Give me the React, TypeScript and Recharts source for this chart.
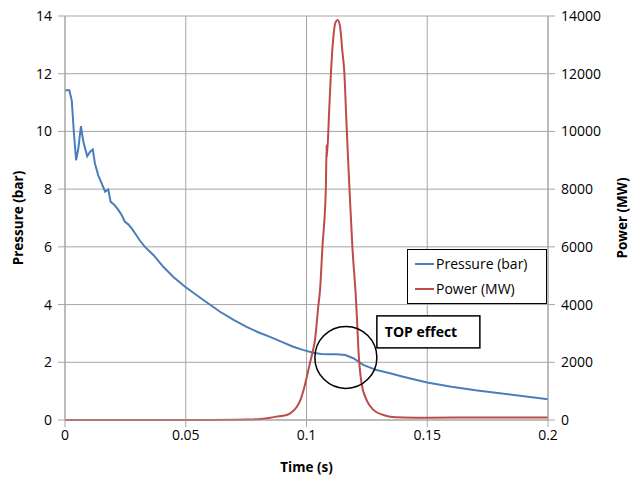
import React from "react";
import {
  ComposedChart,
  Line,
  XAxis,
  YAxis,
  CartesianGrid,
  Legend,
  Label,
  ReferenceDot,
} from "recharts";

// pressure trace (bar)
const pressureTime = [
  0, 0.0018, 0.0028, 0.0037, 0.0046, 0.0055, 0.0066, 0.0076, 0.0092, 0.0104,
  0.0115, 0.0124, 0.0138, 0.0152, 0.0166, 0.0175, 0.0179, 0.0189, 0.0205,
  0.0221, 0.0235, 0.0248, 0.0262, 0.0276, 0.029, 0.031, 0.0331, 0.0366, 0.0407,
  0.045, 0.05, 0.0573, 0.0642, 0.07, 0.0752, 0.08, 0.0849, 0.09, 0.0945, 0.0985,
  0.1028, 0.106, 0.109, 0.1125, 0.116, 0.1194, 0.1235, 0.129, 0.1346, 0.14,
  0.15, 0.16, 0.17, 0.18, 0.19, 0.2,
];
const pressureBar = [
  11.43, 11.43, 11.07, 9.93, 9.0, 9.4, 10.18, 9.64, 9.14, 9.3, 9.38, 8.89, 8.47,
  8.2, 7.91, 7.97, 7.99, 7.56, 7.45, 7.28, 7.1, 6.87, 6.78, 6.64, 6.47, 6.22,
  6.0, 5.72, 5.31, 4.95, 4.6, 4.16, 3.75, 3.46, 3.23, 3.04, 2.88, 2.7, 2.54,
  2.43, 2.33, 2.29, 2.28, 2.28, 2.25, 2.14, 1.91, 1.73, 1.62, 1.5, 1.3, 1.15,
  1.03, 0.93, 0.82, 0.72,
];

// power trace (MW)
const powerTime = [
  0, 0.06, 0.07, 0.075, 0.08, 0.085, 0.0885, 0.0918, 0.094, 0.096, 0.0975,
  0.0988, 0.1, 0.1014, 0.1025, 0.1035, 0.1049, 0.1056, 0.1066, 0.108, 0.10835,
  0.1084, 0.1094, 0.1101, 0.1111, 0.112, 0.1129, 0.1139, 0.1148, 0.1157,
  0.1164, 0.1171, 0.1178, 0.119, 0.1205, 0.121, 0.1215, 0.1228, 0.1249, 0.1277,
  0.1318, 0.1346, 0.14, 0.15, 0.17, 0.2,
];
const powerMW = [
  0, 2, 8, 15, 30, 80, 130, 173, 280, 460, 700, 1040, 1450, 1960, 2350, 2770,
  3950, 4500, 6000, 8000, 9530, 9100, 10740, 12000, 13250, 13780, 13860, 13630,
  12820, 12000, 10600, 9250, 8000, 6000, 4160, 3350, 2430, 1270, 690, 350, 173,
  115, 90, 80, 85, 90,
];

const timeTicks = [0, 0.05, 0.1, 0.15, 0.2];
const pressureTicks = [0, 2, 4, 6, 8, 10, 12, 14];
const powerTicks = [0, 2000, 4000, 6000, 8000, 10000, 12000, 14000];
const legendOrder = ["Pressure (bar)", "Power (MW)"];

const pressureData = pressureTime.map((t, i) => ({ t, p: pressureBar[i] }));
const powerData = powerTime.map((t, i) => ({ t, w: powerMW[i] }));

const GRID = "#a6a6a6";
const tickStyle = { fill: "#000", fontSize: 14 };
const titleStyle = { fontWeight: "bold", fontSize: 13.5, fill: "#000", textAnchor: "middle" } as any;

function LegendBox({ payload }: any) {
  const items = [...(payload || [])].sort(
    (a: any, b: any) => legendOrder.indexOf(a.value) - legendOrder.indexOf(b.value)
  );
  return (
    <div
      style={{
        border: "1.5px solid #000",
        background: "#fff",
        padding: "2px 4px 2px 7px",
        fontSize: 14,
        lineHeight: "24.5px",
        boxSizing: "border-box",
        width: 140,
      }}
    >
      {items.map((e: any) => (
        <div key={e.value} style={{ display: "flex", alignItems: "center" }}>
          <span
            style={{
              display: "inline-block",
              width: 19,
              height: 2,
              background: e.color,
              marginRight: 2,
            }}
          />
          <span>{e.value}</span>
        </div>
      ))}
    </div>
  );
}

function TopEffect(props: any) {
  const { cx, cy } = props;
  const r = 31;
  return (
    <g>
      <circle cx={cx} cy={cy} r={r} fill="none" stroke="#000" strokeWidth={1.5} />
      <rect
        x={cx + r}
        y={cy - 41.5}
        width={103}
        height={32}
        fill="#fff"
        stroke="#000"
        strokeWidth={1.5}
      />
      <text x={cx + r + 8} y={cy - 20.5} fontSize={14} fontWeight="bold" fill="#000">
        TOP effect
      </text>
    </g>
  );
}

export default function App() {
  return (
    <div style={{ position: "absolute", left: 0, top: 0 }}>
      <ComposedChart
        width={633}
        height={479}
        margin={{ top: 16, right: 0, bottom: 0, left: 0 }}
        style={{ fontFamily: "'Open Sans', sans-serif", background: "#fff" }}
      >
        <CartesianGrid xAxisId="x" yAxisId="left" stroke={GRID} strokeWidth={1} />
        <XAxis
          xAxisId="x"
          dataKey="t"
          type="number"
          domain={[0, 0.2]}
          ticks={timeTicks}
          height={59}
          tickSize={7}
          tickMargin={3}
          stroke={GRID}
          tick={tickStyle}
          allowDataOverflow
        >
          <Label value="Time (s)" position="insideBottom" offset={7} style={titleStyle} />
        </XAxis>
        <YAxis
          yAxisId="left"
          domain={[0, 14]}
          ticks={pressureTicks}
          width={65}
          tickSize={7}
          tickMargin={6}
          stroke={GRID}
          tick={tickStyle}
        >
          <Label
            value="Pressure (bar)"
            angle={-90}
            position="insideLeft"
            offset={18}
            style={titleStyle}
          />
        </YAxis>
        <YAxis
          yAxisId="right"
          orientation="right"
          domain={[0, 14000]}
          ticks={powerTicks}
          width={85}
          tickSize={7}
          tickMargin={6}
          stroke={GRID}
          tick={tickStyle}
        >
          <Label
            value="Power (MW)"
            angle={-90}
            position="insideRight"
            offset={11}
            style={titleStyle}
          />
        </YAxis>
        <Legend
          layout="vertical"
          align="center"
          verticalAlign="middle"
          content={<LegendBox />}
          wrapperStyle={{ position: "absolute", left: 407, top: 249, width: 140 }}
        />
        <Line
          xAxisId="x"
          yAxisId="left"
          data={pressureData}
          dataKey="p"
          name="Pressure (bar)"
          type="linear"
          stroke="#4a7ebb"
          strokeWidth={2}
          dot={false}
          isAnimationActive={false}
        />
        <Line
          xAxisId="x"
          yAxisId="right"
          data={powerData}
          dataKey="w"
          name="Power (MW)"
          type="monotone"
          stroke="#be4b48"
          strokeWidth={2}
          dot={false}
          isAnimationActive={false}
        />
        <ReferenceDot
          xAxisId="x"
          yAxisId="left"
          x={0.1163}
          y={2.17}
          r={31}
          shape={<TopEffect />}
        />
      </ComposedChart>
    </div>
  );
}
